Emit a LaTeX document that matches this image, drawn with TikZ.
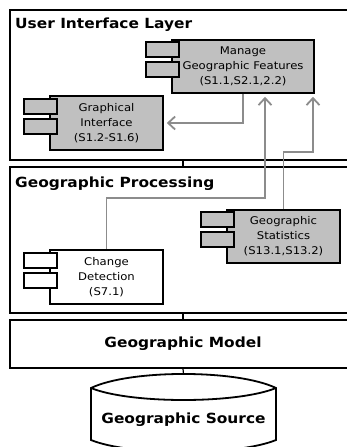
\documentclass[tikz,border=0pt]{standalone}
\usepackage{fontspec}
\setmainfont[FakeStretch=1.1]{DejaVu Sans}
\usetikzlibrary{arrows.meta,calc}
\definecolor{compfill}{HTML}{C0C0C0}
\definecolor{conngray}{HTML}{8C8C8C}
\tikzset{
  layer/.style={draw, line width=1.8pt, minimum width=346pt, inner sep=0pt},
  layertitle/.style={anchor=base west, inner sep=0pt, font=\fontsize{14}{16}\selectfont\bfseries},
  comp/.style={draw, line width=1.6pt, fill=compfill, inner sep=0pt, align=center,
    font=\fontsize{10.6}{15}\selectfont},
  tabst/.style={draw, line width=1.6pt},
  conn/.style={draw=conngray, line width=1.8pt},
  arr/.style={conn, -{Straight Barb[length=7pt,width=13pt,line width=1.8pt]}, shorten >=3pt},
  link/.style={draw, line width=1.2pt},
}
\newcommand\comptabs[3]{%
  \draw[tabst,fill=#2] ($(#1.north west)+(-25,#3)$) rectangle ++(33,15);
  \draw[tabst,fill=#2] ($(#1.north west)+(-25,#3+20)$) rectangle ++(33,15);}
\begin{document}
\begin{tikzpicture}[x=1pt,y=-1pt]
\useasboundingbox (0,0) rectangle (347,447);
\clip (0,0) rectangle (347,447);
% layers
\node[layer, minimum height=150pt] (ui) at (183,85) {};
\node[layertitle] (uit) at (15,28) {User Interface Layer};
\node[layer, minimum height=146pt] (gp) at (183,240) {};
\node[layertitle] (gpt) at (15,187) {Geographic Processing};
\node[layer, minimum height=48pt, font=\fontsize{14}{16}\selectfont\bfseries] (mdl) at (183,344) {Geographic Model};
\draw[link] (ui.south) -- (gp.north);
\draw[link] (gp.south) -- (mdl.north);
% cylinder
\coordinate (srctop) at (183.5,374);
\draw[line width=1.8pt, fill=white] (91,388) .. controls (130,369.3) and (237,369.3) .. (276,388)
  -- (276,440) .. controls (237,456) and (130,456) .. (91,440) -- cycle;
\draw[line width=1.8pt] (91,388) .. controls (130,404) and (237,404) .. (276,388);
\node[font=\fontsize{14}{16}\selectfont\bfseries] (src) at (183.5,420) {Geographic Source};
\draw[link] (mdl.south) -- (srctop);
% components
\node[comp, minimum width=142pt, minimum height=53pt] (manage) at (243,66.5)
  {Manage\\Geographic Features\\(S1.1,S2.1,2.2)};
\comptabs{manage}{compfill}{3}
\node[comp, minimum width=113pt, minimum height=54pt] (gi) at (106.5,123)
  {Graphical\\Interface\\(S1.2-S1.6)};
\comptabs{gi}{compfill}{4}
\node[comp, minimum width=113pt, minimum height=53pt] (stats) at (283.5,236.5)
  {Geographic\\Statistics\\(S13.1,S13.2)};
\comptabs{stats}{compfill}{3}
\node[comp, fill=white, minimum width=113pt, minimum height=54pt] (cd) at (106.5,277)
  {Change\\Detection\\(S7.1)};
\comptabs{cd}{white}{4}
% connectors
\draw[arr] (manage.south) |- (gi.east);
\coordinate (c1) at (265,198);
\draw[arr] (cd.north) |- (c1) -- (c1 |- manage.south);
\coordinate (c2) at (313,152);
\draw[arr] (stats.north) |- (c2) -- (c2 |- manage.south);
\end{tikzpicture}
\end{document}
